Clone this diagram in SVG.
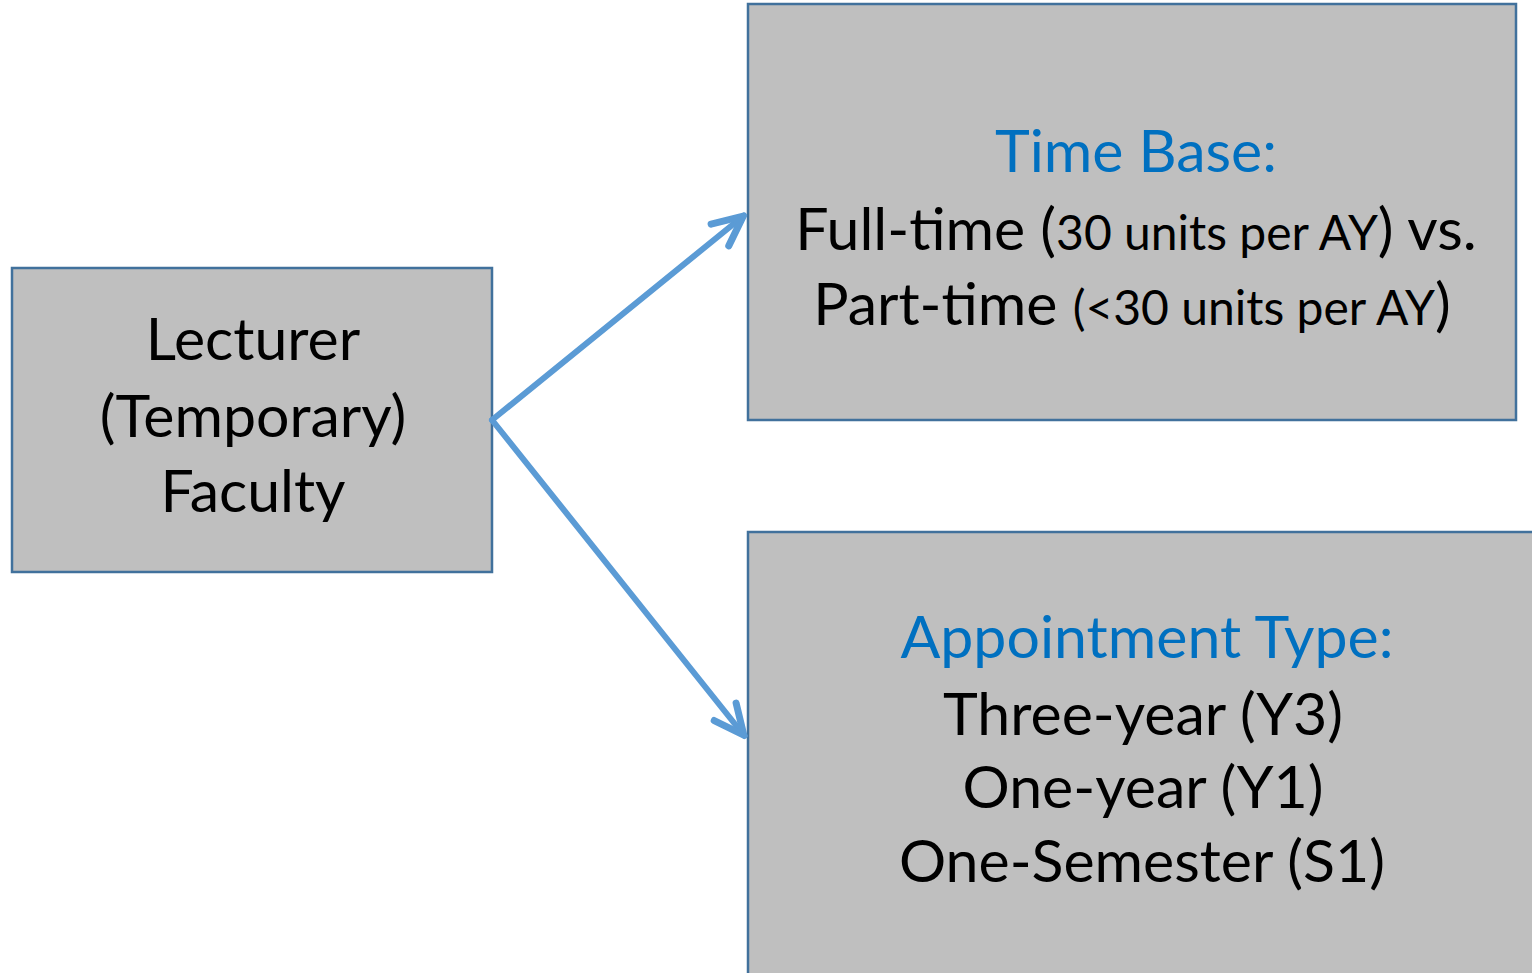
<svg xmlns="http://www.w3.org/2000/svg" width="1532" height="973" viewBox="0 0 1532 973">
<defs>
<style>
.box{fill:#BFBFBF;stroke:#41719C;stroke-width:2.5}
.t{font-family:Lato,"Open Sans","Liberation Sans",sans-serif;text-anchor:middle;fill:#000;font-size:59px}
.h{fill:#0070C0}
.s{font-size:48px}
.conn{fill:none;stroke:#5B9BD5;stroke-width:6;stroke-linecap:round}
</style>
<marker id="ah" viewBox="-38 -20 44 40" markerWidth="44" markerHeight="40" refX="0" refY="0" orient="auto" markerUnits="userSpaceOnUse">
<path d="M -31 -14 L -1 0 L -31 14" fill="none" stroke="#5B9BD5" stroke-width="7" stroke-linecap="round" stroke-linejoin="round"/>
</marker>
</defs>
<rect width="1532" height="973" fill="#FFFFFF"/>
<g id="lecturer">
<rect class="box" x="12" y="268" width="480" height="304"/>
<text class="t" x="253" y="360">Lecturer</text>
<text class="t" x="253" y="437">(Temporary)</text>
<text class="t" x="253" y="512">Faculty</text>
</g>
<g id="timebase">
<rect class="box" x="748" y="4" width="768" height="416"/>
<text class="t h" x="1136" y="172">Time Base:</text>
<text class="t" x="1136" y="250">Full-time (<tspan class="s">30 units per AY</tspan>) vs.</text>
<text class="t" x="1132" y="325">Part-time <tspan class="s">(&lt;30 units per AY</tspan>)</text>
</g>
<g id="appointment">
<rect class="box" x="748" y="532" width="800" height="460"/>
<text class="t h" x="1147" y="658">Appointment Type:</text>
<text class="t" x="1143" y="735">Three-year (Y3)</text>
<text class="t" x="1143" y="808">One-year (Y1)</text>
<text class="t" x="1142" y="882">One-Semester (S1)</text>
</g>
<g id="connectors">
<path class="conn" d="M 492 420 L 744 215.5" marker-end="url(#ah)"/>
<path class="conn" d="M 492 420 L 744.5 736" marker-end="url(#ah)"/>
</g>
</svg>
